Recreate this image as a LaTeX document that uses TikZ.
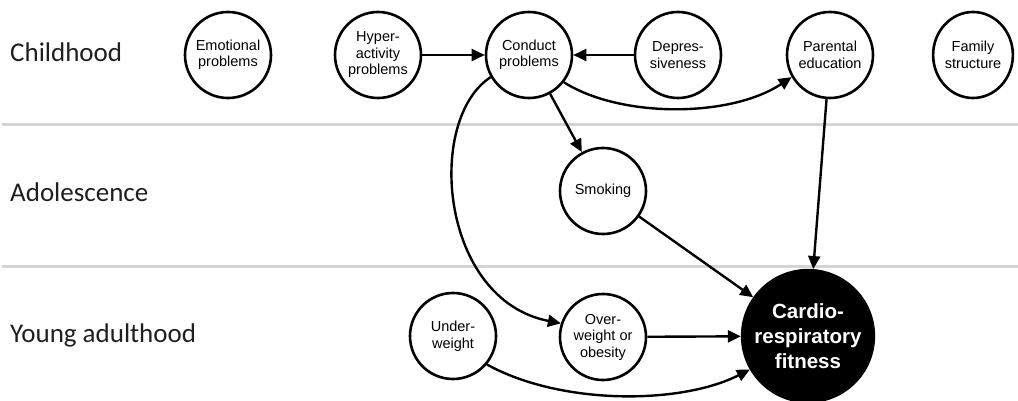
\documentclass[tikz,border=0pt]{standalone}
\usepackage{fontspec}
\setmainfont{Liberation Sans}
\newfontfamily\labfont{Carlito}
\usetikzlibrary{arrows.meta,shapes.geometric}
\tikzset{
  var/.style={circle,draw=black,line width=2.6pt,fill=white,minimum size=86pt,inner sep=0pt,
    align=center,font=\fontsize{14.5}{16.5}\selectfont},
  outc/.style={circle,draw=black,line width=2.3pt,fill=black,minimum size=132pt,inner sep=0pt,
    align=center,text=white,font=\fontsize{20.5}{25}\selectfont\bfseries},
  stage/.style={anchor=west,inner sep=0pt,font=\labfont\fontsize{27}{30}\selectfont,text=black!88},
  sep/.style={draw=black!17,line width=3pt},
  arr/.style={draw=black,line width=2.4pt,-{Triangle[length=13pt,width=12pt]}}
}
\begin{document}
\begin{tikzpicture}[x=1pt,y=-1pt]
\useasboundingbox (0,0) rectangle (1018,401);
% separators
\coordinate (s1a) at (2,125); \coordinate (s1b) at (1018,125);
\coordinate (s2a) at (2,266); \coordinate (s2b) at (1018,266);
\draw[sep] (s1a) -- (s1b);
\draw[sep] (s2a) -- (s2b);
% stage labels
\node[stage] (child) at (10,52) {Childhood};
\node[stage] (adol) at (10,192) {Adolescence};
\node[stage] (young) at (10,335) {Young adulthood};
% nodes
\node[var] (emo) at (228,55) {Emotional\\problems};
\node[var] (hyp) at (378,55) {Hyper-\\activity\\problems};
\node[var] (con) at (529,55) {Conduct\\problems};
\node[var] (dep) at (678,55) {Depres-\\siveness};
\node[var] (par) at (830,55) {Parental\\education};
\node[var,ellipse,minimum width=78pt,minimum height=86pt] (fam) at (973,55) {Family\\structure};
\node[var] (smk) at (603,191) {Smoking};
\node[var] (ovw) at (603,337) {Over-\\weight or\\obesity};
\node[var] (unw) at (453,336) {Under-\\weight};
\node[outc] (crf) at (808,336) {Cardio-\\respiratory\\fitness};
% arrows
\draw[arr] (hyp) -- (con);
\draw[arr] (dep) -- (con);
\draw[arr] (con) -- (smk);
\draw[arr] (con.-38) .. controls (620,118) and (730,118) .. (par.-150);
\draw[arr] (con.-150) .. controls (425,120) and (440,300) .. (ovw.162);
\draw[arr] (par) -- (crf);
\draw[arr] (smk) -- (crf);
\draw[arr] (ovw) -- (crf);
\draw[arr] (unw.-40) .. controls (560,405) and (680,405) .. (crf.-150);
\end{tikzpicture}
\end{document}
